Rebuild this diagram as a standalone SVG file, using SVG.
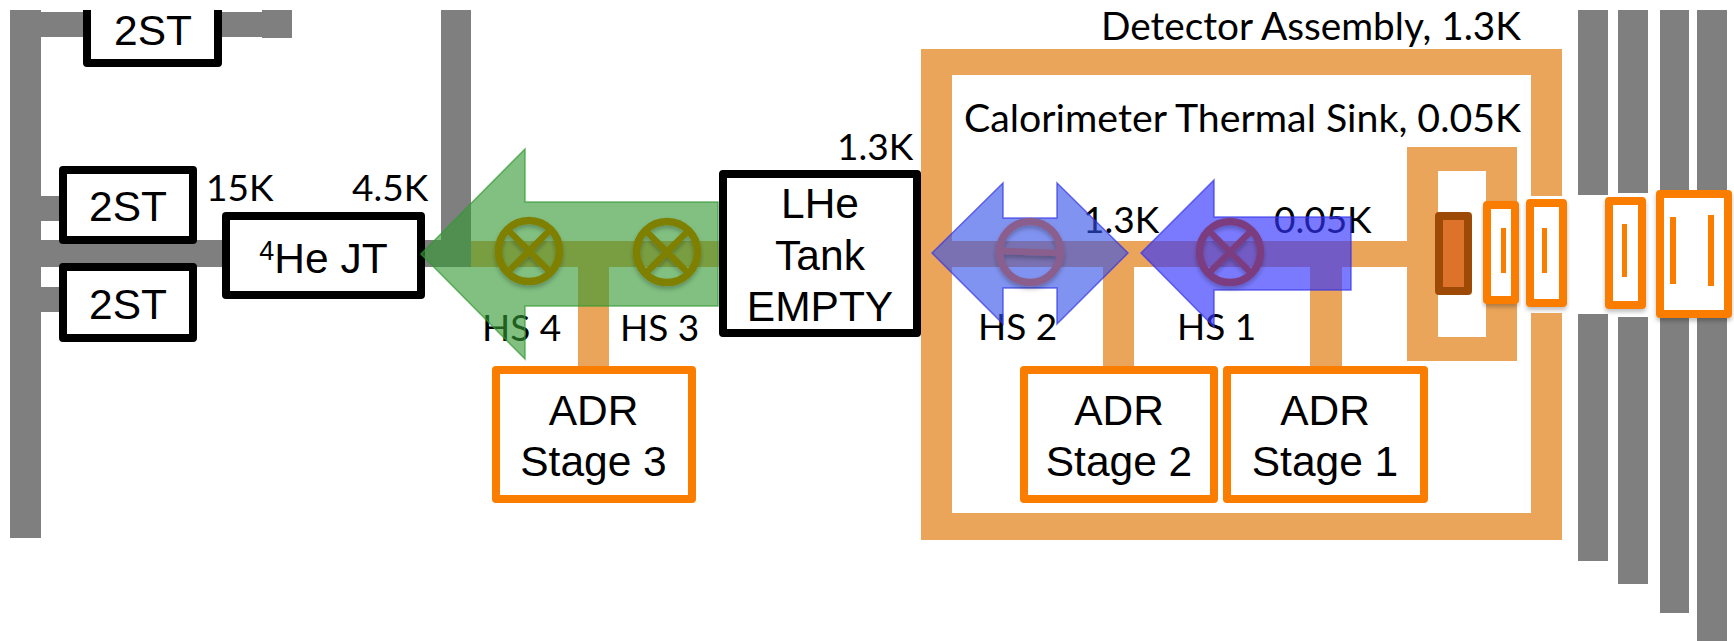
<svg xmlns="http://www.w3.org/2000/svg" width="1734" height="641" viewBox="0 0 1734 641">
<style>
.g{fill:#7f7f7f}.t{fill:#eba55a}
.bk{fill:#fff;stroke:#000;stroke-width:8;stroke-linejoin:round}
.or{fill:#fff;stroke:#fa7d00;stroke-width:8;stroke-linejoin:round}
.ol{fill:#fa7d00}
text{fill:#000}
.a{font:42.5px "Liberation Sans",Arial,sans-serif;text-anchor:middle}
.l{font:37px Lato,"Open Sans",sans-serif}
.b{font-size:39.5px}
.vg{fill:none;stroke:#7f7f00;stroke-width:7.5}
.vb{fill:none;stroke:#7c3c80;stroke-width:7.5}
.vc{fill:none;stroke:#8a5e8e;stroke-width:7.5}
.x{stroke-width:6.5}
</style>
<defs><filter id="sh" x="-20%" y="-20%" width="140%" height="140%"><feDropShadow dx="0" dy="3" stdDeviation="2" flood-color="#000" flood-opacity=".25"/></filter></defs>
<rect width="1734" height="641" fill="#fff"/>
<g id="connectors">
<g id="gray-structure">
<rect class="g" x="10" y="10" width="31" height="528"/>
<rect class="g" x="41" y="12" width="221" height="25"/>
<rect class="g" x="262" y="10" width="30" height="28"/>
<rect class="g" x="41" y="196" width="20" height="25"/>
<rect class="g" x="41" y="287" width="20" height="25"/>
<rect class="g" x="41" y="240" width="185" height="27"/>
<rect class="g" x="421" y="240" width="50" height="27"/>
<rect class="g" x="441" y="10" width="30" height="257"/>
<rect class="g" x="1578" y="10" width="30" height="185"/>
<rect class="g" x="1578" y="314" width="30" height="247"/>
<rect class="g" x="1618" y="10" width="30" height="183"/>
<rect class="g" x="1618" y="317" width="30" height="267"/>
<rect class="g" x="1660" y="10" width="29" height="182"/>
<rect class="g" x="1660" y="316" width="29" height="297"/>
<rect class="g" x="1697" y="10" width="30" height="182"/>
<rect class="g" x="1697" y="316" width="30" height="325"/>
</g>
<g id="thermal-links">
<path class="t" d="M921 49H1562V196H1531V75H952V513H1531V313H1562V540H921Z"/>
<rect class="t" x="471" y="241" width="250" height="26"/>
<rect class="t" x="578" y="241" width="31" height="127"/>
<rect class="t" x="921" y="241" width="486" height="26"/>
<rect class="t" x="1103" y="241" width="31" height="127"/>
<rect class="t" x="1310" y="241" width="32" height="127"/>
<path class="t" fill-rule="evenodd" d="M1407 147H1517V361H1407ZM1438 171V337H1486V171Z"/>
</g>
</g>
<g id="labels">
<text class="l b" x="1101" y="40" textLength="420" lengthAdjust="spacingAndGlyphs">Detector Assembly, 1.3K</text>
<text class="l b" x="964" y="132" textLength="557" lengthAdjust="spacingAndGlyphs">Calorimeter Thermal Sink, 0.05K</text>
<text class="l" x="206" y="201">15K</text>
<text class="l" x="352" y="201">4.5K</text>
<text class="l" x="837" y="160">1.3K</text>
<text class="l" x="482" y="341">HS 4</text>
<text class="l" x="620" y="341">HS 3</text>
<text class="l" x="978" y="340">HS 2</text>
<text class="l" x="1177" y="340">HS 1</text>
<text class="l" x="1083" y="233">1.3K</text>
<text class="l" x="1274" y="233">0.05K</text>
</g>
<g id="node-2st-top"><path class="bk" d="M87 10V63H218V10"/><text class="a" x="153" y="45">2ST</text></g>
<g id="node-2st-upper"><rect class="bk" x="63" y="170" width="130" height="70"/><text class="a" x="128" y="221">2ST</text></g>
<g id="node-2st-lower"><rect class="bk" x="63" y="267" width="130" height="71"/><text class="a" x="128" y="319">2ST</text></g>
<g id="node-he-jt"><rect class="bk" x="226" y="216" width="195" height="79"/><text class="a" x="323.500" y="273"><tspan font-size="27" dy="-13">4</tspan><tspan dy="13">He JT</tspan></text></g>
<g id="node-lhe-tank"><rect class="bk" x="723" y="174" width="194" height="159"/><text class="a" x="820" y="218">LHe</text><text class="a" x="820" y="270">Tank</text><text class="a" x="820" y="321">EMPTY</text></g>
<g id="node-adr3"><rect class="or" x="496" y="370" width="196" height="129"/><text class="a" x="593.500" y="425">ADR</text><text class="a" x="593.500" y="476">Stage 3</text></g>
<g id="node-adr2"><rect class="or" x="1024" y="370" width="190" height="129"/><text class="a" x="1119" y="425">ADR</text><text class="a" x="1119" y="476">Stage 2</text></g>
<g id="node-adr1"><rect class="or" x="1227" y="370" width="197" height="129"/><text class="a" x="1325" y="425">ADR</text><text class="a" x="1325" y="476">Stage 1</text></g>
<g id="node-calorimeter"><rect x="1439" y="216" width="29" height="75" fill="#dd722a" stroke="#9c4a05" stroke-width="8" stroke-linejoin="round"/></g>
<g id="node-filter-1" filter="url(#sh)"><rect class="or" x="1487" y="205" width="28" height="95"/><rect class="ol" x="1501" y="228" width="5" height="45"/></g>
<g id="node-filter-2" filter="url(#sh)"><rect class="or" x="1530" y="203" width="33" height="100"/><rect class="ol" x="1542" y="228" width="5" height="45"/></g>
<g id="node-filter-3" filter="url(#sh)"><rect class="or" x="1609" y="201" width="33" height="104"/><rect class="ol" x="1622" y="224" width="5" height="53"/></g>
<g id="node-filter-4" filter="url(#sh)"><rect class="or" x="1660" y="194" width="68" height="120"/><rect class="ol" x="1670" y="217" width="6" height="67"/><rect class="ol" x="1708" y="215" width="6" height="71"/></g>
<g id="arrows">
<path id="arrow-green" d="M421 254L525 149V202H718V306H525V359Z" fill="#339933" fill-opacity=".62" stroke="#339933" stroke-opacity=".7" stroke-width="1.500"/>
<path id="arrow-hs2" d="M932 253L1003 183V218H1057V183L1128 253L1057 324V288H1003V324Z" fill="#3350e6" fill-opacity=".62" stroke="#3333e6" stroke-opacity=".7" stroke-width="1.500"/>
<path id="arrow-hs1" d="M1141 253L1214 180V217H1351V290H1214V327Z" fill="#3333ff" fill-opacity=".65" stroke="#3333e6" stroke-opacity=".7" stroke-width="1.500"/>
</g>
<g id="valve-hs4" filter="url(#sh)"><circle class="vg" cx="529" cy="251" r="30.500"/><path class="vg x" d="M508 230L550 272M550 230L508 272"/></g>
<g id="valve-hs3" filter="url(#sh)"><circle class="vg" cx="667" cy="252" r="30.500"/><path class="vg x" d="M646 231L688 273M688 231L646 273"/></g>
<g id="valve-hs2" filter="url(#sh)"><circle class="vc" cx="1030" cy="252" r="30.500"/><path class="vc x" d="M1001 251L1059 253"/></g>
<g id="valve-hs1" filter="url(#sh)"><circle class="vb" cx="1230" cy="252" r="30.500"/><path class="vb x" d="M1209 273L1251 231M1209 231L1251 273"/></g>
</svg>
